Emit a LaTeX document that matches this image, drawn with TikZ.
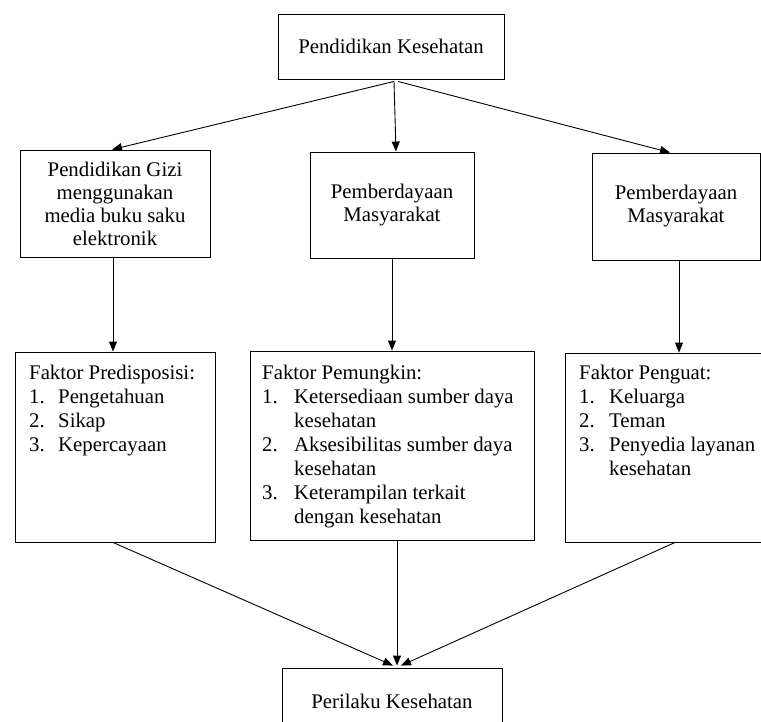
\documentclass[tikz,border=0pt]{standalone}
\usepackage{fontspec}
\setmainfont{Liberation Serif}
\usetikzlibrary{arrows.meta}
\begin{document}
\begin{tikzpicture}[x=1pt,y=-1pt,
  box/.style={draw, line width=0.9pt, inner sep=0pt},
  up/.style={font=\fontsize{20.8}{23}\selectfont, align=center},
  lst/.style={font=\fontsize{20.8}{24}\selectfont, inner sep=0pt, anchor=base west},
  arr/.style={line width=0.9pt, -{Triangle[length=10pt,width=8pt]}}]
\useasboundingbox (0,0) rectangle (761,721);
% top row
\node[box, minimum width=226pt, minimum height=65pt, up] (top) at (391,46.5) {Pendidikan Kesehatan};
% second row
\node[box, minimum width=190pt, minimum height=107pt, up] (b1) at (115,203.5) {Pendidikan Gizi\\menggunakan\\media buku saku\\elektronik};
\node[box, minimum width=164pt, minimum height=106pt, up] (b2) at (392,205) {Pemberdayaan\\Masyarakat};
\node[box, minimum width=168pt, minimum height=107pt, up] (b3) at (676,206.5) {Pemberdayaan\\Masyarakat};
% third row boxes
\node[box, minimum width=200pt, minimum height=190pt] (l1) at (115,447) {};
\node[box, minimum width=284pt, minimum height=189pt] (l2) at (392,445.5) {};
\node[box, minimum width=198pt, minimum height=189pt] (l3) at (664,447.5) {};
% third row texts
\node[lst] (t1) at (29,379) {\begin{tabular}[t]{@{}p{29pt}@{}l@{}}
\multicolumn{2}{@{}l@{}}{Faktor Predisposisi:}\\
1. & Pengetahuan\\
2. & Sikap\\
3. & Kepercayaan
\end{tabular}};
\node[lst] (t2) at (262,379) {\begin{tabular}[t]{@{}p{32pt}@{}l@{}}
\multicolumn{2}{@{}l@{}}{Faktor Pemungkin:}\\
1. & Ketersediaan sumber daya\\
   & kesehatan\\
2. & Aksesibilitas sumber daya\\
   & kesehatan\\
3. & Keterampilan terkait\\
   & dengan kesehatan
\end{tabular}};
\node[lst] (t3) at (579,379) {\begin{tabular}[t]{@{}p{30pt}@{}l@{}}
\multicolumn{2}{@{}l@{}}{Faktor Penguat:}\\
1. & Keluarga\\
2. & Teman\\
3. & Penyedia layanan\\
   & kesehatan
\end{tabular}};
% bottom
\node[box, minimum width=220pt, minimum height=66pt, up] (bot) at (392,701) {Perilaku Kesehatan};
% connectors top -> second row
\draw[arr] ([xshift=3pt,yshift=-2pt]top.south) -- ([xshift=-3pt]b1.north);
\draw[arr] ([xshift=3pt,yshift=-2pt]top.south) -- ([xshift=4pt]b2.north);
\draw[arr] ([xshift=7pt,yshift=-2pt]top.south) -- ([xshift=-6pt]b3.north);
% second -> third
\draw[arr] ([xshift=-2pt]b1.south) -- ([xshift=-2pt]b1.south |- l1.north);
\draw[arr] (b2.south) -- (b2.south |- l2.north);
\draw[arr] ([xshift=3pt]b3.south) -- ([xshift=3pt]b3.south |- l3.north);
% third -> bottom
\draw[arr] ([xshift=-2pt]l1.south) -- ([xshift=1pt,yshift=2pt]bot.north);
\draw[arr] ([xshift=5pt]l2.south) -- ([xshift=5pt,yshift=2pt]bot.north);
\draw[arr] ([xshift=11pt]l3.south) -- ([xshift=9pt,yshift=2pt]bot.north);
\end{tikzpicture}
\end{document}
